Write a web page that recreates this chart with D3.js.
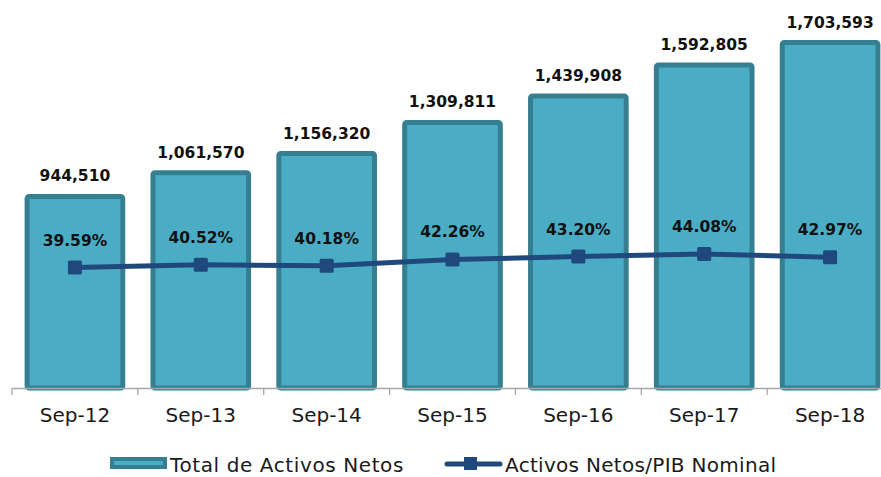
<!DOCTYPE html>
<html><head><meta charset="utf-8">
<script src="https://cdn.jsdelivr.net/npm/d3@7"></script>
<style>body{margin:0;background:#fff;} svg{display:block;}</style>
</head><body>
<svg id="c" width="881" height="477"></svg>
<script>
const categories = ["Sep-12","Sep-13","Sep-14","Sep-15","Sep-16","Sep-17","Sep-18"];
const netAssets = [944510,1061570,1156320,1309811,1439908,1592805,1703593];
const ratioPIB = [0.3959,0.4052,0.4018,0.4226,0.4320,0.4408,0.4297];
const seriesNames = ["Total de Activos Netos","Activos Netos/PIB Nominal"];

const svg = d3.select("#c");
const barFill = "#4BACC6", barStroke = "#367F91", lineColor = "#1F497D";
const font = "DejaVu Sans";

const x = d3.scaleBand().domain(categories).range([12, 893]).paddingInner(0.24).paddingOuter(0.12);
const y = d3.scaleLinear().domain([0, 1800000]).range([388, 23]);
const y2 = d3.scaleLinear().domain([0, 1.2]).range([388, 23]);

// bars
svg.append("g").selectAll("rect").data(netAssets).join("rect")
  .attr("x", (d,i) => x(categories[i]))
  .attr("y", d => y(d))
  .attr("width", x.bandwidth())
  .attr("height", d => y(0) - y(d))
  .attr("rx", 2)
  .attr("fill", barFill).attr("stroke", barStroke).attr("stroke-width", 5);

// axis
const xAxis = d3.axisBottom(x).tickSize(0).tickPadding(20);
const ax = svg.append("g").attr("transform", "translate(0,388)").call(xAxis);
ax.select(".domain").attr("stroke", "#A6A6A6").attr("stroke-width", 1.3);
ax.selectAll("text").attr("font-family", font).attr("font-size", 20).attr("fill", "#1a1a1a");
// boundary tick marks
const step = x.step();
svg.append("g").selectAll("line").data(d3.range(categories.length + 1)).join("line")
  .attr("x1", i => 12 + i*step).attr("x2", i => 12 + i*step)
  .attr("y1", 388).attr("y2", 395)
  .attr("stroke", "#A6A6A6").attr("stroke-width", 1.3);

// bar labels
svg.append("g").selectAll("text").data(netAssets).join("text")
  .attr("x", (d,i) => x(categories[i]) + x.bandwidth()/2)
  .attr("y", d => y(d) - 15)
  .attr("text-anchor", "middle")
  .attr("font-family", font).attr("font-weight", "bold").attr("font-size", 15.5)
  .attr("fill", "#111")
  .text(d => d3.format(",")(d));

// line
const cx = c => x(c) + x.bandwidth()/2;
svg.append("path").datum(ratioPIB)
  .attr("d", d3.line().x((d,i) => cx(categories[i])).y(d => y2(d)))
  .attr("fill", "none").attr("stroke", lineColor).attr("stroke-width", 5);
svg.append("g").selectAll("rect").data(ratioPIB).join("rect")
  .attr("x", (d,i) => cx(categories[i]) - 7)
  .attr("y", d => y2(d) - 7)
  .attr("width", 14).attr("height", 14).attr("rx", 1.5)
  .attr("fill", lineColor);
svg.append("g").selectAll("text").data(ratioPIB).join("text")
  .attr("x", (d,i) => cx(categories[i]))
  .attr("y", d => y2(d) - 22)
  .attr("text-anchor", "middle")
  .attr("font-family", font).attr("font-weight", "bold").attr("font-size", 15.5)
  .attr("fill", "#111")
  .text(d => d3.format(".2%")(d));

// legend
const lg = svg.append("g");
lg.append("rect").attr("x", 112).attr("y", 459).attr("width", 53).attr("height", 8)
  .attr("fill", barFill).attr("stroke", barStroke).attr("stroke-width", 4);
lg.append("text").attr("x", 170).attr("y", 472).attr("font-family", font).attr("font-size", 20)
  .attr("letter-spacing", 0.6)
  .attr("fill", "#1a1a1a").text(seriesNames[0]);
lg.append("line").attr("x1", 447).attr("x2", 500).attr("y1", 464).attr("y2", 464)
  .attr("stroke", lineColor).attr("stroke-width", 5).attr("stroke-linecap", "round");
lg.append("rect").attr("x", 464).attr("y", 457).attr("width", 13).attr("height", 13).attr("fill", lineColor);
lg.append("text").attr("x", 505).attr("y", 472).attr("font-family", font).attr("font-size", 20)
  .attr("letter-spacing", 0.3)
  .attr("fill", "#1a1a1a").text(seriesNames[1]);
</script>
</body></html>
